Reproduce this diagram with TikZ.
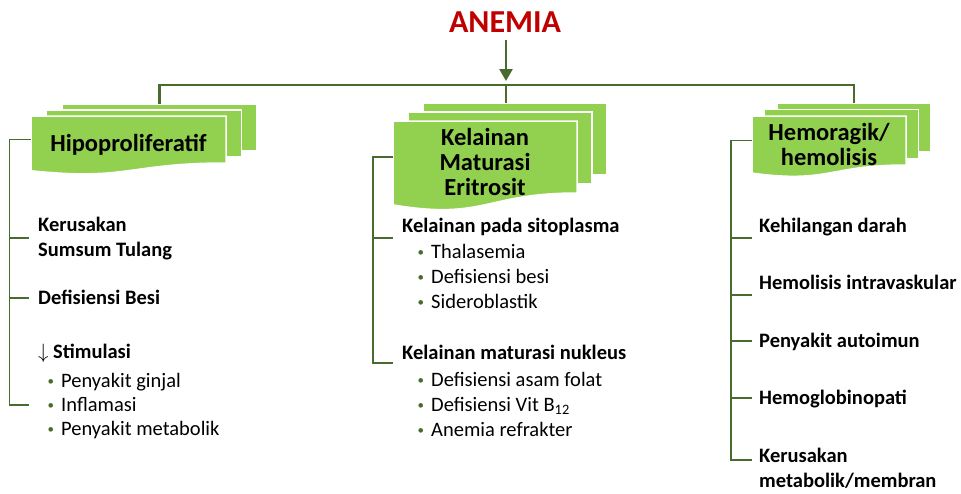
\documentclass[tikz,border=0pt]{standalone}
\usepackage{fontspec}
\setmainfont{Carlito}
\usetikzlibrary{arrows.meta}

\definecolor{hijaumuda}{HTML}{92D050}
\definecolor{hijautua}{HTML}{4A6B2E}
\definecolor{merah}{HTML}{C00000}

\tikzset{
  kotak/.style={fill=hijaumuda, draw=white, line width=1.5pt},
  batang/.style={draw=hijautua, line width=2.5pt},
  kurung/.style={draw=hijautua, line width=1.2pt},
  judul/.style={text=merah, font=\fontsize{32}{36}\selectfont\bfseries, inner sep=7pt},
  judulkotak/.style={align=center, font=\fontsize{24.5}{25}\selectfont\bfseries},
  poin/.style={anchor=base west, inner sep=0pt, font=\fontsize{20.5}{24}\selectfont\bfseries},
  butir/.style={anchor=base west, inner sep=0pt, font=\fontsize{20.5}{24}\selectfont,
    execute at begin node={\llap{\textcolor{hijautua}{\raisebox{1.5pt}{\fontsize{13}{13}\selectfont\textbullet}}\hspace{7pt}}}}
}

% tumpukan dokumen: nama, x, y, lebar, tinggi, geser x, geser y
\newcommand{\tumpukan}[7]{%
  \filldraw[kotak] (#2+2*#6,#3-2*#7) rectangle ++(#4,#5);
  \filldraw[kotak] (#2+#6,#3-#7) rectangle ++(#4,#5);
  \filldraw[kotak] (#2,#3) -- ++(#4,0) -- ++(0,#5)
    .. controls (#2+0.5*#4,#3+#5) and (#2+0.5*#4,#3+1.38*#5) .. (#2,#3+1.165*#5) -- cycle;
  \coordinate (#1-atas) at (#2+2*#6+0.5*#4,#3-2*#7);
  \coordinate (#1-kiri) at (#2,#3+0.5*#5);
}

\begin{document}
\begin{tikzpicture}[x=1pt, y=-1pt]
    \useasboundingbox (0,0) rectangle (961,493);

    % Kotak kelompok
    \tumpukan{hipo}{31}{116}{195}{47}{15.5}{6}
    \tumpukan{kel}{393}{121}{184}{72}{15}{9}
    \tumpukan{hemo}{752}{116}{154}{49}{12.5}{6.5}

    \node[judulkotak] (hipo) at (128.5,145) {Hipoproliferatif};
    \node[judulkotak] (kel) at (485,162) {Kelainan\\Maturasi\\Eritrosit};
    \node[judulkotak] (hemo) at (829,144) {Hemoragik/\\hemolisis};

    % Judul dan cabang
    \node[judul] (anemia) at (505,22) {ANEMIA};
    \coordinate (cabang) at (506,85);
    \draw[batang, -{Triangle[width=13pt,length=12pt]}, shorten >=4pt] (anemia.south -| cabang) -- (cabang);
    \draw[batang] (hipo-atas) -- (hipo-atas |- cabang) -- (hemo-atas |- cabang) -- (hemo-atas);
    \draw[batang] (cabang) -- (cabang |- kel-atas);

    % Kurung kiri
    \draw[kurung] (hipo-kiri) -| (9.5,405) -- ++(19.5,0);
    \foreach \y in {238,298} \draw[kurung] (9.5,\y) -- ++(19.5,0);

    \node[poin] (k1) at (38,231) {Kerusakan};
    \node[poin] (k2) at (38,256) {Sumsum Tulang};
    \node[poin] (k3) at (38,304) {Defisiensi Besi};
    \node[poin] (k4) at (38,358) {$\downarrow$ Stimulasi};
    \node[butir] (k5) at (61,387) {Penyakit ginjal};
    \node[butir] (k6) at (61,411) {Inflamasi};
    \node[butir] (k7) at (61,435) {Penyakit metabolik};

    % Kurung tengah
    \draw[kurung] (kel-kiri) -| (373,363) -- ++(20,0);
    \draw[kurung] (373,238) -- ++(20,0);

    \node[poin] (m1) at (402,232) {Kelainan pada sitoplasma};
    \node[butir] (m2) at (431,258) {Thalasemia};
    \node[butir] (m3) at (431,283) {Defisiensi besi};
    \node[butir] (m4) at (431,308) {Sideroblastik};
    \node[poin] (m5) at (402,359) {Kelainan maturasi nukleus};
    \node[butir] (m6) at (431,386) {Defisiensi asam folat};
    \node[butir] (m7) at (431,411) {Defisiensi Vit B\textsubscript{12}};
    \node[butir] (m8) at (431,436) {Anemia refrakter};

    % Kurung kanan
    \draw[kurung] (hemo-kiri) -| (731,460) -- ++(21,0);
    \foreach \y in {238,295,341,398} \draw[kurung] (731,\y) -- ++(21,0);

    \node[poin] (h1) at (759,232) {Kehilangan darah};
    \node[poin] (h2) at (759,289) {Hemolisis intravaskular};
    \node[poin] (h3) at (759,347) {Penyakit autoimun};
    \node[poin] (h4) at (759,404) {Hemoglobinopati};
    \node[poin] (h5) at (759,462) {Kerusakan};
    \node[poin] (h6) at (759,487) {metabolik/membran};
\end{tikzpicture}
\end{document}
